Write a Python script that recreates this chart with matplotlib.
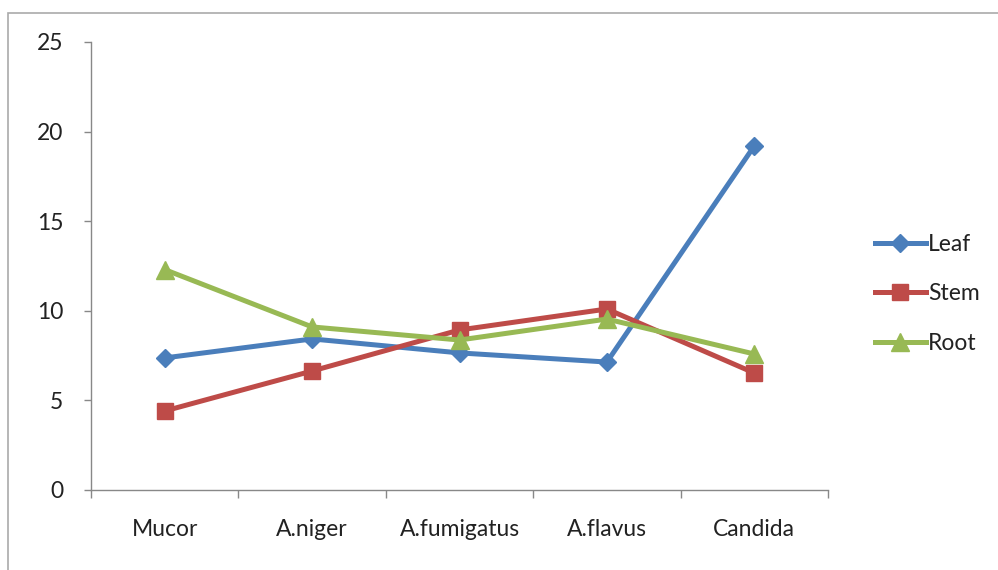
import matplotlib
matplotlib.use("Agg")
import matplotlib.pyplot as plt
from matplotlib.patches import Rectangle

categories = ["Mucor", "A.niger", "A.fumigatus", "A.flavus", "Candida"]
leaf = [7.37, 8.43, 7.65, 7.14, 19.2]
stem = [4.41, 6.64, 8.93, 10.1, 6.53]
root = [12.3, 9.1, 8.37, 9.54, 7.59]
yticks = [0, 5, 10, 15, 20, 25]

plt.rcParams['font.family'] = ['Lato', 'DejaVu Sans']
FS = 16.5

fig = plt.figure(figsize=(9.98, 5.70), dpi=100)
ax = fig.add_axes([91/998, 1-490/570, (828-91)/998, (490-42)/570])

x = list(range(len(categories)))
ax.plot(x, leaf, color='#4A7EBB', lw=3.6, marker='D', ms=9.5, label='Leaf')
ax.plot(x, stem, color='#BE4B48', lw=3.6, marker='s', ms=12, label='Stem')
ax.plot(x, root, color='#98B954', lw=3.6, marker='^', ms=13, label='Root')

ax.set_xlim(-0.5, len(categories) - 0.5)
ax.set_ylim(0, 25)
ax.set_yticks(yticks)
ax.set_xticks(x)
ax.set_xticklabels(categories)
ax.set_xticks([i - 0.5 for i in range(len(categories) + 1)], minor=True)
ax.tick_params(axis='x', which='major', length=0, pad=21, labelsize=FS, labelcolor='#222222')
ax.tick_params(axis='x', which='minor', length=6, color='#888888', width=1)
ax.tick_params(axis='y', length=5, color='#888888', width=1, pad=15, labelsize=FS, labelcolor='#222222')
for s in ['top', 'right']:
    ax.spines[s].set_visible(False)
for s in ['left', 'bottom']:
    ax.spines[s].set_color('#888888')
    ax.spines[s].set_linewidth(1)

leg = fig.legend(loc='center left', bbox_to_anchor=(866/998, 1-294/570), frameon=False,
                 fontsize=FS, handlelength=2.2, labelspacing=1.25, handletextpad=0.12,
                 borderaxespad=0)
for t in leg.get_texts():
    t.set_color('#222222')

fig.patches.append(Rectangle((8/998, -0.05), 1.1, 1-13/570+0.05, transform=fig.transFigure,
                             fill=False, edgecolor='#AAAAAA', lw=1.2, clip_on=False))

fig.savefig('out.png', dpi=100)
